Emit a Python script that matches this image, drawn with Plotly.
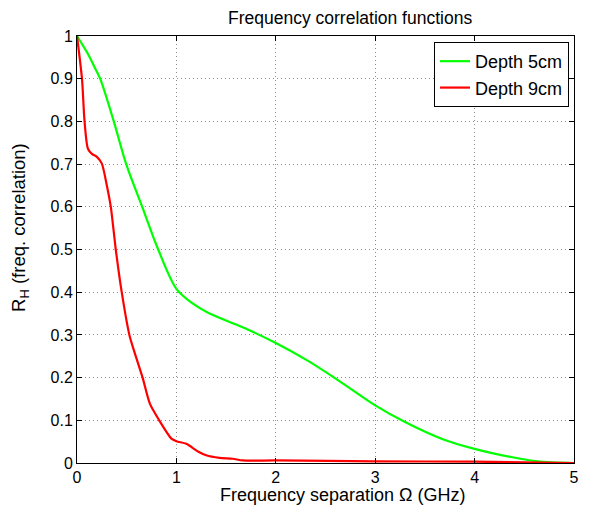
import plotly.graph_objects as go

x_green = [0, 0.117, 0.183, 0.233, 0.37, 0.495, 0.656, 0.817, 1.0, 1.167, 1.333, 1.667, 2.0, 2.333, 2.633, 3.0, 3.3, 3.667, 4.0, 4.367, 4.633, 5.0]
y_green = [1.0, 0.955, 0.924, 0.9, 0.8, 0.7, 0.6, 0.5, 0.408, 0.373, 0.350, 0.318, 0.281, 0.238, 0.193, 0.135, 0.096, 0.057, 0.033, 0.014, 0.004, 0.0]

x_red = [0, 0.05, 0.076, 0.11, 0.15, 0.2, 0.25, 0.30, 0.34, 0.39, 0.45, 0.527, 0.583, 0.66, 0.733, 0.827, 0.95, 1.0, 1.1, 1.217, 1.3, 1.433, 1.567, 1.667, 2.0, 3.0, 4.0, 5.0]
y_red = [1.0, 0.9, 0.8, 0.736, 0.724, 0.717, 0.701, 0.650, 0.6, 0.5, 0.4, 0.3, 0.256, 0.2, 0.139, 0.1, 0.057, 0.051, 0.045, 0.027, 0.018, 0.012, 0.010, 0.006, 0.006, 0.004, 0.003, 0.0]

title_text = "Frequency correlation functions"
xlabel_text = "Frequency separation Ω (GHz)"
ylabel_text = "R<sub>H</sub> (freq. correlation)"

font_family = "Liberation Sans, Arial, Helvetica, sans-serif"

fig = go.Figure()
fig.add_trace(go.Scatter(x=x_green, y=y_green, mode="lines", name="Depth 5cm",
                         line=dict(color="#00ff00", width=2.2, shape="spline", smoothing=0.9)))
fig.add_trace(go.Scatter(x=x_red, y=y_red, mode="lines", name="Depth 9cm",
                         line=dict(color="#ff0000", width=2.2, shape="spline", smoothing=0.7)))

axis_common = dict(showline=True, linecolor="black", linewidth=1, mirror="allticks",
                   ticks="inside", ticklen=5, tickcolor="black",
                   showgrid=True, gridcolor="#8c8c8c", griddash="1px,3px", gridwidth=1,
                   zeroline=False, tickfont=dict(size=16, color="black"))

fig.update_layout(
    width=583, height=502,
    paper_bgcolor="white", plot_bgcolor="white",
    margin=dict(l=69, r=14, t=28, b=47, pad=0),
    font=dict(family=font_family, color="black"),
    xaxis=dict(range=[0, 5], dtick=1, **axis_common),
    yaxis=dict(range=[0, 1], dtick=0.1, **axis_common),
    legend=dict(x=0.99, y=0.986, xanchor="right", yanchor="top",
                bgcolor="white", bordercolor="black", borderwidth=1,
                font=dict(size=18), tracegroupgap=0),
    showlegend=True,
    annotations=[
        dict(text=title_text, xref="paper", yref="paper", x=0.5496, y=1.043,
             xanchor="center", yanchor="middle", showarrow=False, font=dict(size=17.5)),
        dict(text=xlabel_text, xref="paper", yref="paper", x=0.5356, y=-0.074,
             xanchor="center", yanchor="middle", showarrow=False, font=dict(size=18)),
        dict(text=ylabel_text, xref="paper", yref="paper", x=-0.1134, y=0.552,
             xanchor="center", yanchor="middle", textangle=-90, showarrow=False,
             font=dict(size=18.5)),
    ],
)

fig.write_html("out.html")
